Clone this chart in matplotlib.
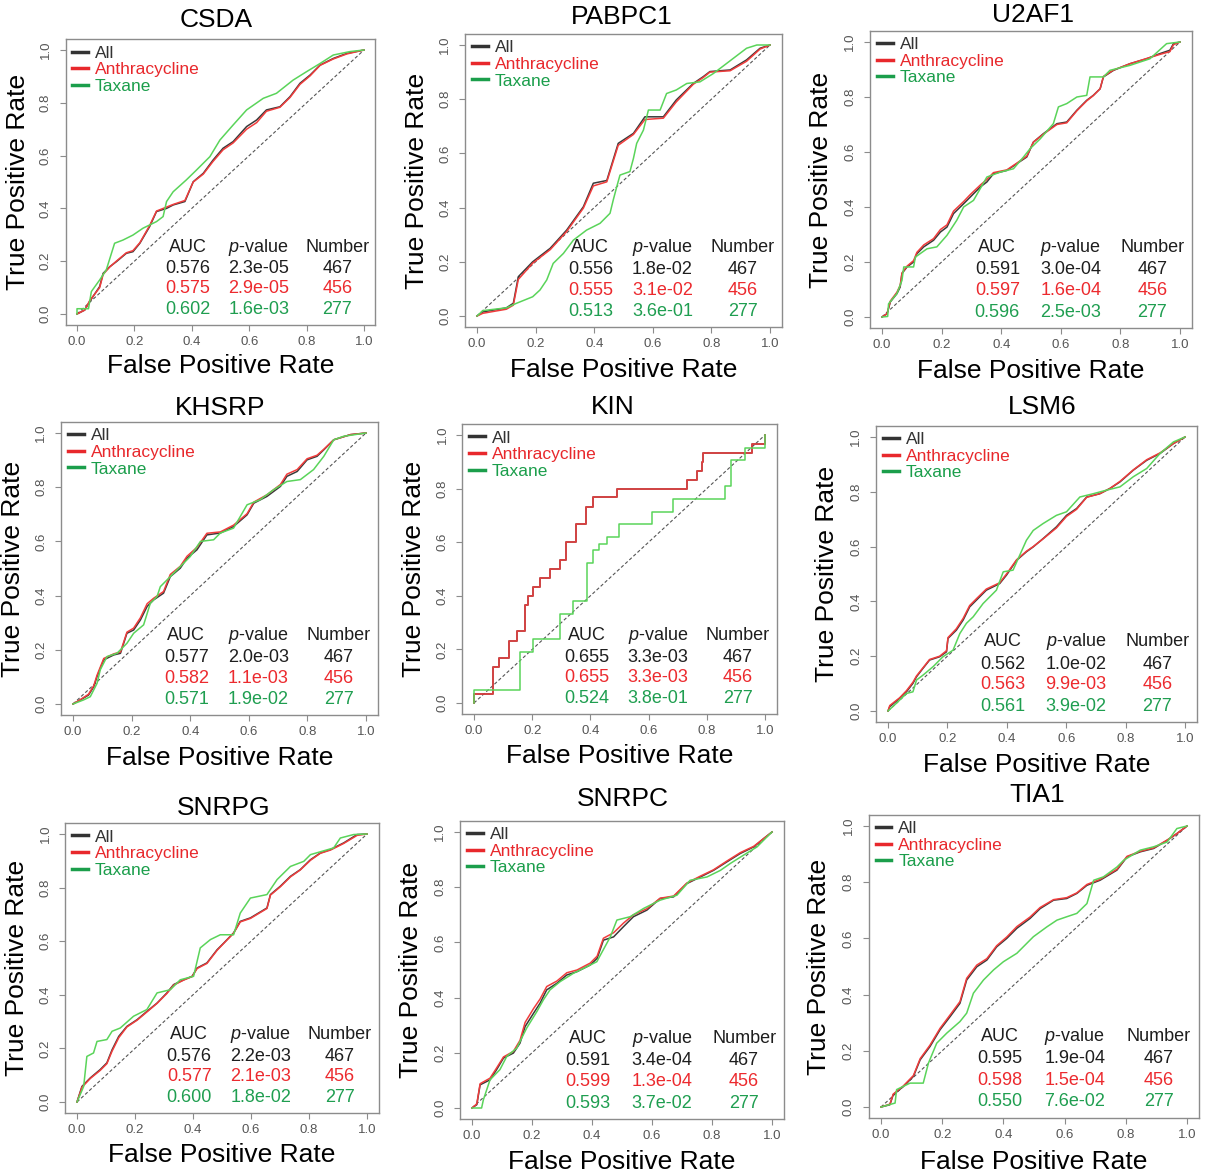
import matplotlib
matplotlib.use("Agg")
import matplotlib.pyplot as plt
from matplotlib.lines import Line2D

plt.rcParams['font.family'] = ['Liberation Sans', 'DejaVu Sans']
plt.rcParams['mathtext.fontset'] = 'custom'
plt.rcParams['mathtext.rm'] = 'Liberation Sans'
plt.rcParams['mathtext.it'] = 'Liberation Sans:italic'

genes = ['CSDA', 'PABPC1', 'U2AF1', 'KHSRP', 'KIN', 'LSM6', 'SNRPG', 'SNRPC', 'TIA1']
groups = ['All', 'Anthracycline', 'Taxane']
numbers = [467, 456, 277]

# AUC and p-value per gene, order: All, Anthracycline, Taxane
auc = {
    'CSDA': [0.576, 0.575, 0.602], 'PABPC1': [0.556, 0.555, 0.513], 'U2AF1': [0.591, 0.597, 0.596],
    'KHSRP': [0.577, 0.582, 0.571], 'KIN': [0.655, 0.655, 0.524], 'LSM6': [0.562, 0.563, 0.561],
    'SNRPG': [0.576, 0.577, 0.600], 'SNRPC': [0.591, 0.599, 0.593], 'TIA1': [0.595, 0.598, 0.550],
}
pval = {
    'CSDA': [2.3e-05, 2.9e-05, 1.6e-03], 'PABPC1': [1.8e-02, 3.1e-02, 3.6e-01], 'U2AF1': [3.0e-04, 1.6e-04, 2.5e-03],
    'KHSRP': [2.0e-03, 1.1e-03, 1.9e-02], 'KIN': [3.3e-03, 3.3e-03, 3.8e-01], 'LSM6': [1.0e-02, 9.9e-03, 3.9e-02],
    'SNRPG': [2.2e-03, 2.1e-03, 1.8e-02], 'SNRPC': [3.4e-04, 1.3e-04, 3.7e-02], 'TIA1': [1.9e-04, 1.5e-04, 7.6e-02],
}

# ROC curves (FPR, TPR)
csda_all_x = [0, 0.027, 0.044, 0.079, 0.091, 0.114, 0.137, 0.172, 0.195, 0.219, 0.253, 0.277, 0.312, 0.335, 0.376, 0.405, 0.44, 0.474, 0.509, 0.544, 0.591, 0.626, 0.66, 0.707, 0.742, 0.777, 0.812, 0.847, 0.893, 0.94, 1.0]
csda_all_y = [0, 0.015, 0.047, 0.104, 0.154, 0.179, 0.198, 0.23, 0.236, 0.268, 0.331, 0.388, 0.4, 0.413, 0.426, 0.501, 0.533, 0.583, 0.628, 0.653, 0.71, 0.735, 0.773, 0.785, 0.823, 0.874, 0.905, 0.943, 0.968, 0.987, 1.0]
csda_ant_y = [0, 0.015, 0.05, 0.1, 0.15, 0.178, 0.2, 0.232, 0.24, 0.27, 0.335, 0.39, 0.405, 0.415, 0.43, 0.5, 0.53, 0.578, 0.622, 0.648, 0.7, 0.725, 0.768, 0.783, 0.82, 0.87, 0.902, 0.942, 0.966, 0.985, 1.0]
csda_tax_x = [0, 0, 0.04, 0.05, 0.079, 0.102, 0.131, 0.16, 0.195, 0.23, 0.277, 0.3, 0.312, 0.335, 0.381, 0.416, 0.463, 0.498, 0.544, 0.591, 0.649, 0.695, 0.753, 0.8, 0.847, 0.893, 0.951, 1.0]
csda_tax_y = [0, 0.02, 0.02, 0.085, 0.129, 0.167, 0.268, 0.28, 0.299, 0.325, 0.35, 0.369, 0.426, 0.463, 0.508, 0.545, 0.596, 0.659, 0.716, 0.773, 0.817, 0.836, 0.886, 0.918, 0.949, 0.981, 0.994, 1.0]

pabpc1_all_x = [0, 0.02, 0.1, 0.124, 0.141, 0.19, 0.25, 0.306, 0.363, 0.397, 0.443, 0.482, 0.534, 0.573, 0.636, 0.68, 0.738, 0.772, 0.795, 0.864, 0.92, 0.966, 1.0]
pabpc1_all_y = [0, 0.015, 0.03, 0.047, 0.145, 0.2, 0.25, 0.317, 0.403, 0.49, 0.5, 0.637, 0.674, 0.735, 0.735, 0.797, 0.858, 0.883, 0.902, 0.908, 0.945, 0.988, 1.0]
pabpc1_ant_y = [0, 0.01, 0.025, 0.04, 0.135, 0.195, 0.245, 0.312, 0.398, 0.48, 0.495, 0.63, 0.67, 0.725, 0.73, 0.79, 0.855, 0.88, 0.9, 0.905, 0.94, 0.985, 1.0]
pabpc1_tax_x = [0, 0.02, 0.1, 0.135, 0.19, 0.215, 0.238, 0.26, 0.295, 0.329, 0.374, 0.42, 0.454, 0.465, 0.477, 0.488, 0.522, 0.534, 0.545, 0.568, 0.585, 0.625, 0.647, 0.68, 0.716, 0.761, 0.807, 0.852, 0.92, 0.955, 1.0]
pabpc1_tax_y = [0, 0.02, 0.03, 0.047, 0.071, 0.096, 0.133, 0.194, 0.231, 0.28, 0.317, 0.342, 0.379, 0.428, 0.477, 0.52, 0.533, 0.582, 0.637, 0.686, 0.76, 0.76, 0.821, 0.834, 0.858, 0.864, 0.895, 0.932, 0.988, 1.0, 1.0]

u2af1_all_x = [0, 0.017, 0.028, 0.05, 0.061, 0.067, 0.084, 0.106, 0.117, 0.14, 0.173, 0.196, 0.218, 0.24, 0.274, 0.296, 0.33, 0.352, 0.374, 0.419, 0.453, 0.486, 0.508, 0.542, 0.587, 0.62, 0.654, 0.687, 0.709, 0.732, 0.743, 0.777, 0.832, 0.888, 0.933, 0.966, 0.978, 1.0]
u2af1_all_y = [0, 0.012, 0.055, 0.085, 0.109, 0.158, 0.182, 0.2, 0.23, 0.255, 0.279, 0.309, 0.327, 0.376, 0.412, 0.436, 0.473, 0.491, 0.521, 0.533, 0.558, 0.582, 0.636, 0.667, 0.703, 0.709, 0.752, 0.788, 0.806, 0.83, 0.873, 0.897, 0.921, 0.939, 0.958, 0.97, 0.994, 1.0]
u2af1_ant_y = [0, 0.012, 0.058, 0.09, 0.115, 0.16, 0.185, 0.205, 0.235, 0.262, 0.285, 0.318, 0.335, 0.385, 0.42, 0.445, 0.48, 0.5, 0.525, 0.535, 0.56, 0.585, 0.636, 0.665, 0.7, 0.706, 0.75, 0.786, 0.805, 0.83, 0.875, 0.898, 0.921, 0.94, 0.955, 0.965, 0.99, 1.0]
u2af1_tax_x = [0, 0.019, 0.022, 0.05, 0.067, 0.073, 0.106, 0.112, 0.151, 0.184, 0.218, 0.251, 0.274, 0.307, 0.352, 0.397, 0.441, 0.475, 0.497, 0.531, 0.575, 0.592, 0.62, 0.654, 0.687, 0.698, 0.743, 0.765, 0.832, 0.899, 0.955, 1.0]
u2af1_tax_y = [0, 0.002, 0.048, 0.085, 0.133, 0.182, 0.182, 0.218, 0.248, 0.255, 0.297, 0.352, 0.4, 0.424, 0.509, 0.527, 0.539, 0.582, 0.612, 0.648, 0.703, 0.764, 0.776, 0.8, 0.806, 0.873, 0.873, 0.897, 0.915, 0.939, 0.994, 1.0]

khsrp_all_x = [0, 0.025, 0.053, 0.071, 0.082, 0.105, 0.139, 0.162, 0.184, 0.207, 0.23, 0.253, 0.275, 0.309, 0.332, 0.366, 0.389, 0.423, 0.457, 0.503, 0.548, 0.594, 0.617, 0.662, 0.708, 0.73, 0.765, 0.799, 0.833, 0.856, 0.89, 0.947, 1.0]
khsrp_all_y = [0, 0.015, 0.033, 0.064, 0.101, 0.163, 0.181, 0.187, 0.261, 0.273, 0.31, 0.36, 0.384, 0.409, 0.47, 0.501, 0.538, 0.569, 0.624, 0.631, 0.655, 0.698, 0.741, 0.766, 0.803, 0.84, 0.858, 0.901, 0.914, 0.938, 0.975, 0.994, 1.0]
khsrp_ant_y = [0, 0.016, 0.036, 0.068, 0.106, 0.168, 0.185, 0.192, 0.265, 0.28, 0.318, 0.37, 0.39, 0.415, 0.478, 0.508, 0.545, 0.578, 0.63, 0.635, 0.66, 0.702, 0.745, 0.772, 0.81, 0.848, 0.865, 0.905, 0.918, 0.94, 0.975, 0.994, 1.0]
khsrp_tax_x = [0, 0.036, 0.059, 0.082, 0.093, 0.116, 0.15, 0.184, 0.207, 0.241, 0.264, 0.287, 0.298, 0.332, 0.366, 0.4, 0.435, 0.48, 0.503, 0.548, 0.571, 0.594, 0.639, 0.685, 0.73, 0.776, 0.821, 0.856, 0.89, 0.924, 1.0]
khsrp_tax_y = [0, 0.015, 0.027, 0.076, 0.126, 0.175, 0.187, 0.224, 0.261, 0.292, 0.372, 0.397, 0.433, 0.47, 0.507, 0.544, 0.6, 0.606, 0.631, 0.649, 0.692, 0.735, 0.754, 0.791, 0.821, 0.828, 0.865, 0.914, 0.975, 0.988, 1.0]

# KIN is a coarse staircase (few positives), drawn as steps
kin_all_x = [0, 0, 0.066, 0.086, 0.121, 0.147, 0.175, 0.187, 0.204, 0.227, 0.261, 0.296, 0.316, 0.35, 0.384, 0.408, 0.49, 0.731, 0.765, 0.782, 0.788, 0.954, 1.0, 1.0]
kin_all_y = [0, 0.033, 0.133, 0.167, 0.233, 0.267, 0.367, 0.4, 0.433, 0.467, 0.5, 0.533, 0.6, 0.667, 0.733, 0.767, 0.8, 0.833, 0.867, 0.9, 0.933, 0.967, 0.967, 1.0]
kin_ant_y = kin_all_y
kin_tax_x = [0, 0, 0.158, 0.204, 0.296, 0.341, 0.387, 0.41, 0.43, 0.456, 0.499, 0.613, 0.683, 0.863, 0.883, 0.931, 1.0, 1.0]
kin_tax_y = [0, 0.048, 0.19, 0.238, 0.333, 0.381, 0.524, 0.571, 0.595, 0.619, 0.667, 0.714, 0.762, 0.81, 0.905, 0.952, 0.952, 1.0]

lsm6_all_x = [0, 0.006, 0.039, 0.062, 0.084, 0.096, 0.118, 0.14, 0.174, 0.197, 0.202, 0.23, 0.253, 0.275, 0.298, 0.331, 0.376, 0.399, 0.433, 0.466, 0.489, 0.522, 0.567, 0.601, 0.635, 0.669, 0.713, 0.747, 0.781, 0.826, 0.871, 0.916, 0.961, 1.0]
lsm6_all_y = [0, 0.016, 0.046, 0.07, 0.101, 0.125, 0.156, 0.186, 0.198, 0.216, 0.265, 0.295, 0.332, 0.38, 0.405, 0.441, 0.465, 0.496, 0.55, 0.581, 0.599, 0.629, 0.672, 0.714, 0.739, 0.781, 0.793, 0.812, 0.836, 0.879, 0.915, 0.94, 0.976, 1.0]
lsm6_ant_y = [0, 0.02, 0.048, 0.074, 0.105, 0.128, 0.158, 0.188, 0.2, 0.22, 0.268, 0.3, 0.338, 0.385, 0.41, 0.445, 0.468, 0.5, 0.552, 0.583, 0.6, 0.628, 0.668, 0.71, 0.736, 0.78, 0.793, 0.812, 0.838, 0.88, 0.917, 0.942, 0.976, 1.0]
lsm6_tax_x = [0, 0.028, 0.062, 0.084, 0.096, 0.118, 0.152, 0.185, 0.219, 0.242, 0.264, 0.287, 0.32, 0.365, 0.388, 0.421, 0.466, 0.489, 0.522, 0.567, 0.601, 0.646, 0.691, 0.736, 0.781, 0.826, 0.871, 0.916, 0.961, 1.0]
lsm6_tax_y = [0, 0.028, 0.064, 0.07, 0.113, 0.131, 0.162, 0.198, 0.222, 0.283, 0.32, 0.344, 0.392, 0.441, 0.508, 0.514, 0.623, 0.659, 0.684, 0.714, 0.727, 0.781, 0.793, 0.806, 0.818, 0.855, 0.885, 0.94, 0.982, 1.0]

snrpg_all_x = [0, 0.017, 0.046, 0.08, 0.103, 0.121, 0.144, 0.172, 0.207, 0.241, 0.276, 0.31, 0.333, 0.368, 0.397, 0.414, 0.448, 0.483, 0.506, 0.54, 0.563, 0.598, 0.655, 0.667, 0.701, 0.736, 0.77, 0.805, 0.839, 0.874, 0.92, 0.966, 1.0]
snrpg_all_y = [0, 0.058, 0.09, 0.121, 0.146, 0.195, 0.245, 0.282, 0.307, 0.338, 0.369, 0.407, 0.438, 0.456, 0.469, 0.5, 0.519, 0.568, 0.593, 0.631, 0.674, 0.687, 0.724, 0.774, 0.805, 0.842, 0.867, 0.904, 0.929, 0.942, 0.967, 0.998, 1.0]
snrpg_ant_y = [0, 0.055, 0.088, 0.118, 0.143, 0.19, 0.24, 0.28, 0.305, 0.336, 0.368, 0.405, 0.436, 0.455, 0.468, 0.498, 0.517, 0.566, 0.592, 0.63, 0.672, 0.685, 0.722, 0.772, 0.803, 0.84, 0.866, 0.902, 0.928, 0.94, 0.965, 0.995, 1.0]
snrpg_tax_x = [0, 0.023, 0.034, 0.057, 0.069, 0.103, 0.121, 0.149, 0.195, 0.241, 0.276, 0.322, 0.356, 0.402, 0.425, 0.46, 0.494, 0.54, 0.563, 0.598, 0.655, 0.69, 0.736, 0.782, 0.805, 0.885, 0.908, 0.954, 1.0]
snrpg_tax_y = [0, 0.058, 0.17, 0.183, 0.226, 0.233, 0.264, 0.276, 0.32, 0.345, 0.407, 0.419, 0.456, 0.469, 0.575, 0.606, 0.624, 0.624, 0.705, 0.761, 0.774, 0.83, 0.879, 0.898, 0.923, 0.948, 0.985, 0.998, 1.0]

snrpc_all_x = [0, 0.016, 0.027, 0.06, 0.082, 0.105, 0.138, 0.16, 0.177, 0.205, 0.227, 0.249, 0.283, 0.316, 0.35, 0.394, 0.417, 0.438, 0.472, 0.505, 0.538, 0.583, 0.627, 0.672, 0.716, 0.761, 0.805, 0.85, 0.894, 0.939, 0.972, 1.0]
snrpc_all_y = [0, 0.012, 0.084, 0.102, 0.139, 0.181, 0.199, 0.235, 0.295, 0.343, 0.38, 0.428, 0.452, 0.482, 0.494, 0.518, 0.542, 0.608, 0.62, 0.657, 0.693, 0.717, 0.759, 0.765, 0.813, 0.837, 0.861, 0.892, 0.922, 0.946, 0.976, 1.0]
snrpc_ant_y = [0, 0.015, 0.088, 0.108, 0.145, 0.185, 0.205, 0.245, 0.31, 0.36, 0.395, 0.44, 0.46, 0.49, 0.5, 0.525, 0.55, 0.615, 0.635, 0.67, 0.7, 0.722, 0.76, 0.768, 0.815, 0.84, 0.863, 0.895, 0.925, 0.948, 0.976, 1.0]
snrpc_tax_x = [0, 0.032, 0.038, 0.06, 0.093, 0.116, 0.149, 0.182, 0.216, 0.238, 0.26, 0.294, 0.338, 0.383, 0.416, 0.461, 0.483, 0.527, 0.572, 0.627, 0.683, 0.727, 0.783, 0.828, 0.861, 0.905, 0.95, 0.983, 1.0]
snrpc_tax_y = [0, 0.0, 0.03, 0.102, 0.139, 0.187, 0.217, 0.289, 0.349, 0.392, 0.428, 0.458, 0.488, 0.512, 0.53, 0.62, 0.681, 0.693, 0.723, 0.753, 0.771, 0.825, 0.837, 0.861, 0.886, 0.916, 0.946, 0.982, 1.0]

tia1_all_x = [0, 0.029, 0.04, 0.073, 0.106, 0.128, 0.16, 0.193, 0.226, 0.258, 0.28, 0.313, 0.346, 0.378, 0.411, 0.444, 0.487, 0.52, 0.564, 0.607, 0.64, 0.673, 0.716, 0.771, 0.804, 0.847, 0.891, 0.935, 0.967, 1.0]
tia1_all_y = [0, 0.008, 0.044, 0.073, 0.109, 0.168, 0.215, 0.275, 0.322, 0.369, 0.452, 0.499, 0.523, 0.57, 0.6, 0.636, 0.671, 0.706, 0.736, 0.742, 0.76, 0.789, 0.807, 0.843, 0.89, 0.908, 0.92, 0.949, 0.973, 1.0]
tia1_ant_y = [0, 0.01, 0.046, 0.075, 0.112, 0.172, 0.22, 0.28, 0.328, 0.375, 0.458, 0.505, 0.528, 0.574, 0.605, 0.642, 0.676, 0.71, 0.738, 0.745, 0.762, 0.792, 0.81, 0.846, 0.892, 0.91, 0.922, 0.95, 0.973, 1.0]
tia1_tax_x = [0, 0.046, 0.051, 0.095, 0.138, 0.155, 0.182, 0.215, 0.258, 0.28, 0.302, 0.335, 0.368, 0.4, 0.444, 0.498, 0.542, 0.575, 0.607, 0.64, 0.673, 0.695, 0.727, 0.771, 0.793, 0.847, 0.891, 0.935, 0.967, 1.0]
tia1_tax_y = [0, 0.014, 0.062, 0.085, 0.085, 0.156, 0.227, 0.263, 0.304, 0.334, 0.405, 0.452, 0.488, 0.517, 0.547, 0.606, 0.641, 0.665, 0.677, 0.689, 0.724, 0.807, 0.819, 0.854, 0.878, 0.914, 0.926, 0.943, 0.991, 1.0]

curves = {
    'CSDA': [(csda_all_x, csda_all_y), (csda_all_x, csda_ant_y), (csda_tax_x, csda_tax_y)],
    'PABPC1': [(pabpc1_all_x, pabpc1_all_y), (pabpc1_all_x, pabpc1_ant_y), (pabpc1_tax_x, pabpc1_tax_y)],
    'U2AF1': [(u2af1_all_x, u2af1_all_y), (u2af1_all_x, u2af1_ant_y), (u2af1_tax_x, u2af1_tax_y)],
    'KHSRP': [(khsrp_all_x, khsrp_all_y), (khsrp_all_x, khsrp_ant_y), (khsrp_tax_x, khsrp_tax_y)],
    'KIN': [(kin_all_x, kin_all_y), (kin_all_x, kin_ant_y), (kin_tax_x, kin_tax_y)],
    'LSM6': [(lsm6_all_x, lsm6_all_y), (lsm6_all_x, lsm6_ant_y), (lsm6_tax_x, lsm6_tax_y)],
    'SNRPG': [(snrpg_all_x, snrpg_all_y), (snrpg_all_x, snrpg_ant_y), (snrpg_tax_x, snrpg_tax_y)],
    'SNRPC': [(snrpc_all_x, snrpc_all_y), (snrpc_all_x, snrpc_ant_y), (snrpc_tax_x, snrpc_tax_y)],
    'TIA1': [(tia1_all_x, tia1_all_y), (tia1_all_x, tia1_ant_y), (tia1_tax_x, tia1_tax_y)],
}

# layout (pixels): where data 0 and 1 fall on each panel, and title centres
W, H = 1208, 1176
panel_px = [(77, 364, 50, 314), (477, 770, 45, 316), (882, 1180, 42, 317),
            (73, 366, 433, 704), (474, 765, 435, 703), (888, 1185, 437, 711),
            (77, 367, 834, 1102), (472, 772, 832, 1108), (881, 1187, 826, 1107)]
title_px = [(216, 20), (622, 17), (1033, 15), (220, 408), (613, 407), (1042, 407),
            (224, 808), (623, 799), (1037, 795)]

line_cols = ['#3a3a3a', '#f03c3c', '#5ad45a']
leg_cols = ['#333333', '#e8282c', '#1b9e4b']
text_cols = ['#1e1e1e', '#ec2a2e', '#1f9e50']
grey = '#8c8c8c'

fig = plt.figure(figsize=(W / 100, H / 100), dpi=100)

for i, gene in enumerate(genes):
    x0, x1, yt, yb = panel_px[i]
    w, h = x1 - x0, yb - yt
    left, top = x0 - 0.04 * w, yt - 0.04 * h
    ax = fig.add_axes([left / W, 1 - (top + 1.08 * h) / H, 1.08 * w / W, 1.08 * h / H])
    ax.set_xlim(-0.04, 1.04)
    ax.set_ylim(-0.04, 1.04)

    ax.plot([0, 1], [0, 1], ls=(0, (3, 2)), color='#555555', lw=0.8)
    step = 'steps-post' if gene == 'KIN' else 'default'
    for (fx, ty), c in zip(curves[gene], line_cols):
        ax.plot(fx, ty, color=c, lw=1.1, drawstyle=step)

    for s in ax.spines.values():
        s.set_color(grey)
        s.set_linewidth(1.0)
    ticks = [0, 0.2, 0.4, 0.6, 0.8, 1.0]
    ax.set_xticks(ticks)
    ax.set_yticks(ticks)
    ax.set_xticklabels(['%.1f' % t for t in ticks])
    ax.set_yticklabels(['%.1f' % t for t in ticks], rotation=90, va='center')
    ax.tick_params(axis='both', colors=grey, labelcolor='#555555', labelsize=9.5, length=4)
    ax.tick_params(axis='x', pad=4)
    ax.tick_params(axis='y', pad=6)

    ax.set_xlabel('False Positive Rate', fontsize=19)
    ax.set_ylabel('True Positive Rate', fontsize=19)
    ax.xaxis.set_label_coords(0.5, -0.105)
    ax.yaxis.set_label_coords(-0.115, 0.5)

    fig.text(title_px[i][0] / W, 1 - title_px[i][1] / H, gene, fontsize=19,
             ha='center', va='center')

    handles = [Line2D([], [], color=c, lw=2.5) for c in leg_cols]
    ax.legend(handles, groups, loc='upper left', bbox_to_anchor=(0.016, 0.985),
              frameon=False, fontsize=12.5, labelcolor=leg_cols, handlelength=0.9,
              handletextpad=0.4, labelspacing=0.08, borderpad=0.1, borderaxespad=0)

    cols_x = [0.387, 0.633, 0.907]
    rows_y = [0.252, 0.171, 0.095, 0.018]
    for cx, head in zip(cols_x, ['AUC', r'$\it{p}$-value', 'Number']):
        ax.text(cx, rows_y[0], head, ha='center', va='center', fontsize=13, color='#1e1e1e')
    for k in range(3):
        row = ['%.3f' % auc[gene][k], '%.1e' % pval[gene][k], str(numbers[k])]
        for cx, s in zip(cols_x, row):
            ax.text(cx, rows_y[k + 1], s, ha='center', va='center', fontsize=13, color=text_cols[k])

fig.savefig('out.png', dpi=100, facecolor='white')
